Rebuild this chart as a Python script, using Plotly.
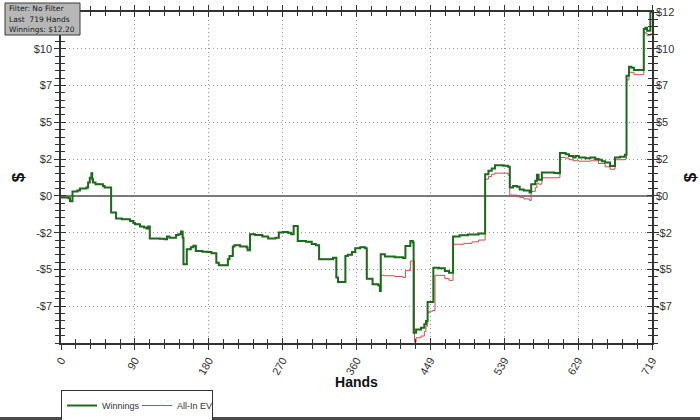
import plotly.graph_objects as go

# ---------------- data ----------------
# Winnings (step breakpoints: hand number, cumulative $)
win_hands = [0, 9, 11, 14, 20, 23, 31, 33, 35, 37, 38, 39, 42, 51, 53, 61, 67, 74, 84, 88,
             90, 96, 101, 104, 106, 108, 120, 126, 129, 132, 140, 143, 146, 148, 149, 153, 158,
             161, 164, 172, 179, 183, 189, 192, 203, 205, 209, 211, 218, 226, 227, 230, 236,
             245, 252, 261, 265, 270, 276, 280, 283, 288, 298, 305, 310, 314, 326, 331, 335,
             337, 343, 346, 349, 354, 358, 364, 370, 372, 379, 386, 388,
             389, 394, 406, 416, 419, 425, 428, 429, 432, 438, 442, 444, 446, 453, 460, 467,
             472, 477, 485, 495, 508, 516, 520, 524, 528, 538, 544, 546, 550, 555, 558, 563,
             570, 572, 577, 579, 581, 585, 600, 605, 607, 614, 618, 623, 626, 630, 638, 644,
             650, 654, 658, 662, 668, 674, 680, 686, 688, 691, 694, 697, 709, 711, 713, 717, 719]
win_values = [-0.10, -0.15, -0.35, 0.29, 0.36, 0.49, 0.55, 0.89, 1.20, 1.51, 1.10, 0.89, 0.78,
              0.65, 0.56, -1.10, -1.50, -1.55, -1.66, -1.80, -1.88, -2.03, -2.10, -2.17, -2.03,
              -2.83, -2.85, -2.88, -2.70, -2.77, -2.60, -2.55, -2.37, -2.77, -4.54, -3.54, -3.40,
              -3.30, -3.65, -3.70, -3.72, -3.80, -4.43, -4.60, -4.20, -3.99, -3.36, -3.27, -3.35,
              -3.43, -3.60, -2.54, -2.60, -2.70, -2.83, -2.77, -2.43, -2.39, -2.45, -2.54, -1.99,
              -2.99, -3.05, -3.20, -3.27, -4.20, -4.20, -4.10, -5.42, -5.71, -5.71, -3.99, -3.90,
              -3.72, -3.47, -3.40, -3.47, -5.49, -5.87, -5.95, -6.31,
              -3.87, -4.02, -4.07, -4.12, -3.32, -2.99, -3.10, -9.08, -8.86, -8.75, -8.52, -8.30,
              -7.04, -4.76, -4.80, -4.98, -5.10, -2.70, -2.61, -2.56, -2.50, 1.44, 1.66, 1.82,
              2.04, 2.00, 1.93, 0.56, 0.65, 0.60, 0.42, 0.36, 0.22, 0.78, 1.00, 1.40, 1.07, 1.55,
              1.52, 1.50, 2.84, 2.77, 2.65, 2.55, 2.65, 2.55, 2.50, 2.55, 2.45, 2.40, 2.30, 2.22,
              1.99, 2.55, 2.60, 2.73, 7.97, 8.57, 8.50, 8.35, 11.08, 11.15, 10.96, 12.20, 12.20]

# All-In EV: identical to Winnings up to hand 388, then these breakpoints
ev_split_hand = 389
ev_tail_hands = [389, 394, 406, 416, 419, 425, 428, 430, 432, 438, 442, 444, 446, 448, 452, 455,
                 467, 472, 477, 490, 500, 508, 516, 520, 524, 528, 544, 546, 555, 558, 563, 570,
                 572, 577, 579, 581, 585, 605, 607, 614, 618, 623, 630, 644, 654, 662, 668, 674,
                 686, 688, 691, 697, 709, 711, 713, 717, 719]
ev_tail_values = [-5.27, -5.30, -5.35, -5.42, -4.96, -4.32, -4.30, -9.70, -9.41, -9.30, -9.00,
                  -8.64, -7.75, -7.65, -7.60, -5.27, -5.49, -5.60, -3.21, -3.15, -3.05, -2.93,
                  1.11, 1.29, 1.44, 1.51, 1.37, 0.05, -0.05, -0.10, -0.20, -0.30, 0.30, 0.55,
                  0.85, 0.78, 1.20, 1.22, 2.55, 2.50, 2.40, 2.33, 2.30, 2.33, 2.15, 1.93, 1.77,
                  2.40, 2.45, 7.69, 8.20, 8.04, 10.86, 10.80, 10.63, 10.75, 10.75]

x_tick_labels = ["0", "90", "180", "270", "360", "449", "539", "629", "719"]
y_tick_labels = ["-$7", "-$5", "-$2", "$0", "$2", "$5", "$7", "$10", "$12"]
total_hands = 719
total_winnings = 12.20
y_min = -9.76
info_lines = ["Filter: No Filter", "Last\u00a0 719 Hands", "Winnings: $12.20"]

# ---------------- derived ----------------
ev_hands = [h for h in win_hands if h < ev_split_hand] + ev_tail_hands
ev_values = [v for h, v in zip(win_hands, win_values) if h < ev_split_hand] + ev_tail_values

y_step = total_winnings / 5
y_tickvals = [y_step * k for k in range(-3, 6)]
x_step = total_hands / 8
x_tickvals = [x_step * k for k in range(9)]

# ---------------- layout geometry ----------------
W, H = 700, 420
L, R, T, B = 61, 48, 12, 77
pw, ph = W - L - R, H - T - B

def px(xp):
    return (xp - L) / pw

def py(yp):
    return (H - B - yp) / ph

axis_col = "#333333"
grid_col = "#9a9a9a"
tick_font = dict(family="Liberation Sans, Arial, sans-serif", size=11, color="#333333")
title_font = dict(family="Liberation Sans, Arial", size=17, color="#111")

fig = go.Figure()

# EV on the base subplot (drawn below), Winnings on the overlay subplot (drawn on top)
fig.add_trace(go.Scatter(
    x=ev_hands, y=ev_values, mode="lines", name="All-In EV",
    line=dict(color="#d24b4b", width=1, shape="hv"),
    legendrank=2,
))
fig.add_trace(go.Scatter(
    x=win_hands, y=win_values, mode="lines", name="Winnings",
    line=dict(color="#1d6a1d", width=2, shape="hv"),
    xaxis="x2", yaxis="y2", legendrank=1,
))

common_y = dict(
    range=[y_min, total_winnings], tickmode="array", tickvals=y_tickvals, ticktext=y_tick_labels,
    tickfont=tick_font, tickcolor=axis_col, ticklen=5, tickwidth=1,
    showline=True, linecolor=axis_col, linewidth=1.5, mirror="allticks",
    automargin=False, fixedrange=True,
)
common_x = dict(
    range=[0, total_hands], tickmode="array", tickvals=x_tickvals, ticktext=x_tick_labels,
    tickcolor=axis_col, ticklen=5, tickwidth=1,
    showline=True, linecolor=axis_col, linewidth=1.5, mirror="allticks",
    automargin=False, fixedrange=True,
)

fig.update_layout(
    width=W, height=H,
    margin=dict(l=L, r=R, t=T, b=B),
    paper_bgcolor="white", plot_bgcolor="white",
    showlegend=True,
    legend=dict(
        orientation="h", xref="container", yref="container",
        x=L / W, y=1 - 390 / H, xanchor="left", yanchor="top",
        bordercolor="#333333", borderwidth=1, bgcolor="white",
        font=dict(family="Liberation Sans, Arial", size=9, color="#333"),
        itemwidth=30, entrywidth=30, entrywidthmode="pixels", tracegroupgap=0,
    ),
    xaxis=dict(
        **common_x, ticks="outside", side="bottom",
        tickangle=-60, tickfont=tick_font,
        showgrid=True, gridcolor=grid_col, griddash="1px,3px", gridwidth=1, zeroline=False,
        minor=dict(tickmode="linear", tick0=0, dtick=x_step / 5, ticks="outside",
                   ticklen=4, tickcolor=axis_col, showgrid=False),
        title=dict(text="<b>Hands</b>", font=dict(family="Liberation Sans, Arial", size=14, color="#111"), standoff=8),
    ),
    xaxis2=dict(
        **common_x, overlaying="x", side="bottom", ticks="inside", showticklabels=False,
        showgrid=False, zeroline=False,
        minor=dict(tickmode="linear", tick0=0, dtick=x_step / 5, ticks="inside",
                   ticklen=4, tickcolor=axis_col, showgrid=False),
    ),
    yaxis=dict(
        **common_y, ticks="outside", side="left",
        showgrid=True, gridcolor=grid_col, griddash="1px,3px", gridwidth=1,
        zeroline=True, zerolinecolor="#7a7a7a", zerolinewidth=1.5,
        minor=dict(tickmode="linear", tick0=0, dtick=y_step / 5, ticks="outside",
                   ticklen=4, tickcolor=axis_col, showgrid=False),
        title=dict(text="<b>$</b>", font=title_font, standoff=5),
    ),
    yaxis2=dict(
        **common_y, overlaying="y", side="right", ticks="inside",
        showgrid=False, zeroline=False,
        minor=dict(tickmode="linear", tick0=0, dtick=y_step / 5, ticks="inside",
                   ticklen=4, tickcolor=axis_col, showgrid=False),
        title=dict(text="<b>$</b>", font=title_font, standoff=14),
    ),
)

# info box top-left (box as an upper-layer shape, one text per line)
box_x0, box_y0, box_x1, box_y1 = 5, 3, 80, 35
fig.add_shape(type="rect", xref="paper", yref="paper",
              x0=px(box_x0), x1=px(box_x1), y0=py(box_y1), y1=py(box_y0),
              fillcolor="#b7b7b7", line=dict(color="#3a3a3a", width=1), layer="above")
for i, line in enumerate(info_lines):
    fig.add_annotation(
        xref="paper", yref="paper", x=px(box_x0 + 2), y=py(9 + 10 * i),
        xanchor="left", yanchor="middle", text=line, showarrow=False, align="left",
        font=dict(family="DejaVu Sans, Verdana, sans-serif", size=7.5, color="#1a1a1a"),
    )

# dark frame bottom edge of the picture
fig.add_shape(type="rect", xref="paper", yref="paper",
              x0=px(0), x1=px(W), y0=py(H), y1=py(H - 3),
              fillcolor="#4a4a4a", line=dict(width=0), layer="above")

fig.write_html("out.html", config={"displayModeBar": False},
               post_script="document.body.style.margin='0';")
